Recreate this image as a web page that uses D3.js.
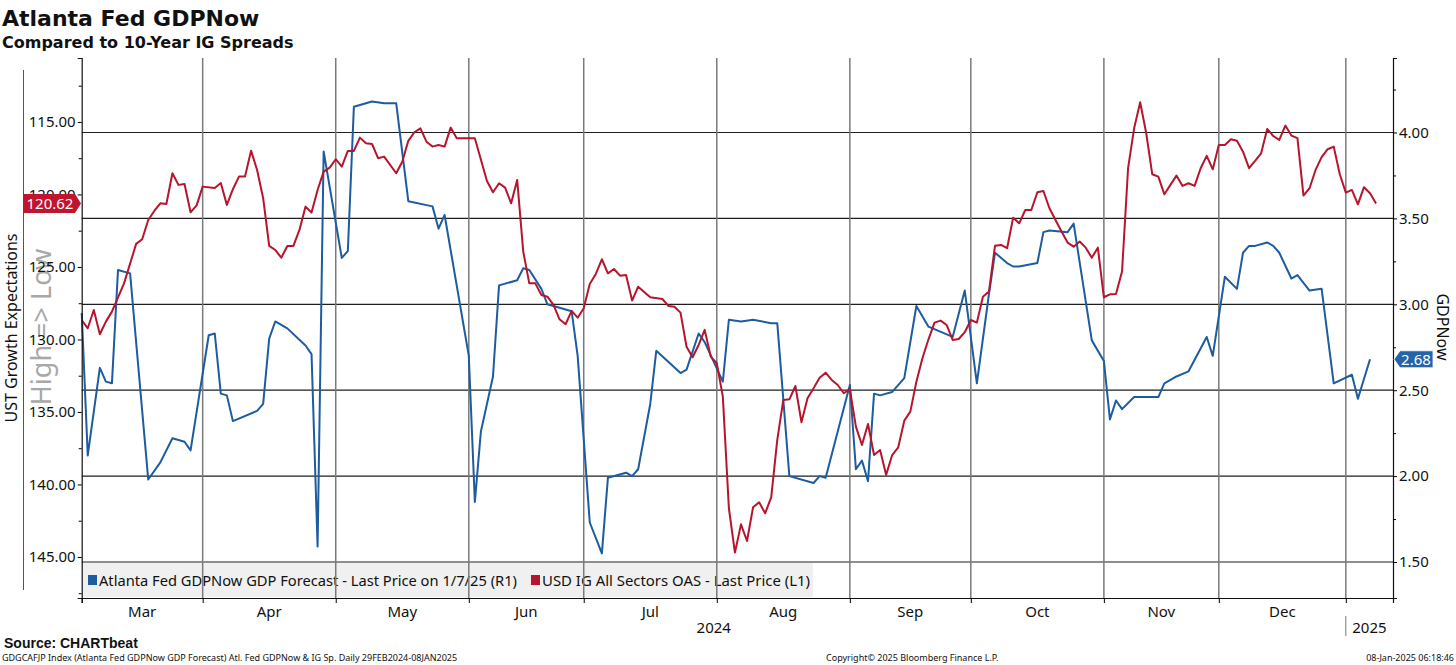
<!DOCTYPE html>
<meta charset="utf-8">
<script src="https://cdn.jsdelivr.net/npm/d3@7/dist/d3.min.js"></script>
<style>
body { margin: 0; background: #fff; }
svg text { font-family: "Noto Sans", "Open Sans", sans-serif; fill: #111; }
.title { font-family: "DejaVu Sans", sans-serif; font-weight: bold; }
.tick-lbl text { font-size: 15px; }
.legend text { font-size: 15px; font-family: "Liberation Sans Narrow", "Noto Sans", sans-serif; }
.foot { font-size: 9px; }
</style>
<div id="vis"></div>
<script>

// Trading calendar (bond market holidays are skipped on the x axis)
const startDay = "2024-02-29", endDay = "2025-01-10";
const holidays = ["2024-03-29", "2024-05-27", "2024-06-19", "2024-07-04", "2024-09-02",
  "2024-10-14", "2024-11-11", "2024-11-28", "2024-12-25", "2025-01-01"];

const monthLabels = ["Mar", "Apr", "May", "Jun", "Jul", "Aug", "Sep", "Oct", "Nov", "Dec"];
const yearLabels = ["2024", "2025"];
const leftTicks = [115, 120, 125, 130, 135, 140, 145];
const rightTicks = [1.5, 2.0, 2.5, 3.0, 3.5, 4.0];

// Atlanta Fed GDPNow (right axis) - update days only
const gdpDates = ["2024-02-29", "2024-03-01", "2024-03-05", "2024-03-06", "2024-03-07", "2024-03-08",
  "2024-03-12", "2024-03-15", "2024-03-19", "2024-03-21", "2024-03-25", "2024-03-26", "2024-04-01",
  "2024-04-02", "2024-04-03", "2024-04-04", "2024-04-05", "2024-04-11", "2024-04-12", "2024-04-15",
  "2024-04-16", "2024-04-18", "2024-04-23", "2024-04-24", "2024-04-25", "2024-04-26", "2024-05-01",
  "2024-05-02", "2024-05-03", "2024-05-08", "2024-05-10", "2024-05-14", "2024-05-16", "2024-05-22",
  "2024-05-23", "2024-05-24", "2024-05-31", "2024-06-03", "2024-06-04", "2024-06-06", "2024-06-07",
  "2024-06-12", "2024-06-13", "2024-06-14", "2024-06-18", "2024-06-20", "2024-06-26", "2024-06-27",
  "2024-07-01", "2024-07-03", "2024-07-05", "2024-07-10", "2024-07-11", "2024-07-12", "2024-07-16",
  "2024-07-17", "2024-07-23", "2024-07-24", "2024-07-26", "2024-07-29", "2024-08-01", "2024-08-02",
  "2024-08-06", "2024-08-08", "2024-08-13", "2024-08-14", "2024-08-16", "2024-08-22", "2024-08-23",
  "2024-08-26", "2024-08-30", "2024-09-03", "2024-09-04", "2024-09-05", "2024-09-06", "2024-09-09",
  "2024-09-11", "2024-09-13", "2024-09-17", "2024-09-19", "2024-09-25", "2024-09-27", "2024-10-01",
  "2024-10-03", "2024-10-04", "2024-10-08", "2024-10-09", "2024-10-10", "2024-10-16", "2024-10-17",
  "2024-10-18", "2024-10-23", "2024-10-24", "2024-10-29", "2024-10-31", "2024-11-01", "2024-11-04",
  "2024-11-05", "2024-11-07", "2024-11-14", "2024-11-15", "2024-11-19", "2024-11-21", "2024-11-26",
  "2024-11-27", "2024-12-02", "2024-12-04", "2024-12-05", "2024-12-06", "2024-12-09", "2024-12-11",
  "2024-12-12", "2024-12-13", "2024-12-17", "2024-12-18", "2024-12-20", "2024-12-24", "2024-12-27",
  "2025-01-02", "2025-01-03", "2025-01-07"];
const gdpValues = [2.95, 2.12, 2.63, 2.55, 2.54, 3.20,
  3.18, 1.98, 2.08, 2.22, 2.20, 2.15, 2.82,
  2.83, 2.48, 2.47, 2.32, 2.38, 2.42, 2.80,
  2.90, 2.86, 2.76, 2.71, 1.59, 3.89, 3.27,
  3.31, 4.15, 4.18, 4.17, 4.17, 3.60, 3.57,
  3.44, 3.52, 2.70, 1.85, 2.26, 2.58, 3.11,
  3.14, 3.21, 3.20, 3.09, 3.00, 2.96, 2.70,
  1.73, 1.55, 1.99, 2.02, 2.00, 2.04, 2.42,
  2.73, 2.60, 2.62, 2.83, 2.78, 2.55, 2.91,
  2.90, 2.91, 2.89, 2.89, 2.00, 1.96, 2.00,
  1.99, 2.53, 2.04, 2.09, 1.97, 2.48, 2.47,
  2.49, 2.57, 2.99, 2.87, 2.81, 3.08, 2.54,
  3.06, 3.30, 3.24, 3.22, 3.22, 3.24, 3.42,
  3.43, 3.42, 3.47, 2.79, 2.67, 2.33, 2.44,
  2.39, 2.46, 2.46, 2.54, 2.58, 2.61, 2.81,
  2.70, 3.16, 3.09, 3.30, 3.34, 3.34, 3.36,
  3.34, 3.30, 3.15, 3.17, 3.08, 3.09, 2.54,
  2.59, 2.45, 2.68];

// USD IG All Sectors OAS (left axis, inverted)
const oasDates = ["2024-02-29", "2024-03-01", "2024-03-04", "2024-03-05", "2024-03-06", "2024-03-07",
  "2024-03-11", "2024-03-13", "2024-03-14", "2024-03-15", "2024-03-18", "2024-03-19", "2024-03-20",
  "2024-03-21", "2024-03-22", "2024-03-25", "2024-03-26", "2024-03-27", "2024-03-28", "2024-04-02",
  "2024-04-03", "2024-04-04", "2024-04-05", "2024-04-08", "2024-04-09", "2024-04-10", "2024-04-11",
  "2024-04-12", "2024-04-15", "2024-04-16", "2024-04-17", "2024-04-18", "2024-04-19", "2024-04-22",
  "2024-04-23", "2024-04-24", "2024-04-25", "2024-04-26", "2024-04-29", "2024-04-30", "2024-05-01",
  "2024-05-02", "2024-05-03", "2024-05-06", "2024-05-07", "2024-05-08", "2024-05-09", "2024-05-10",
  "2024-05-14", "2024-05-15", "2024-05-16", "2024-05-17", "2024-05-20", "2024-05-21", "2024-05-22",
  "2024-05-23", "2024-05-24", "2024-05-28", "2024-05-29", "2024-06-03", "2024-06-05", "2024-06-06",
  "2024-06-07", "2024-06-10", "2024-06-11", "2024-06-12", "2024-06-13", "2024-06-14", "2024-06-17",
  "2024-06-18", "2024-06-20", "2024-06-21", "2024-06-24", "2024-06-25", "2024-06-26", "2024-06-27",
  "2024-06-28", "2024-07-01", "2024-07-02", "2024-07-03", "2024-07-05", "2024-07-08", "2024-07-09",
  "2024-07-10", "2024-07-11", "2024-07-12", "2024-07-16", "2024-07-18", "2024-07-19", "2024-07-22",
  "2024-07-23", "2024-07-24", "2024-07-25", "2024-07-26", "2024-07-29", "2024-07-30", "2024-07-31",
  "2024-08-01", "2024-08-02", "2024-08-05", "2024-08-06", "2024-08-07", "2024-08-08", "2024-08-09",
  "2024-08-12", "2024-08-13", "2024-08-14", "2024-08-15", "2024-08-16", "2024-08-19", "2024-08-20",
  "2024-08-21", "2024-08-22", "2024-08-23", "2024-08-26", "2024-08-27", "2024-08-28", "2024-08-29",
  "2024-08-30", "2024-09-03", "2024-09-04", "2024-09-05", "2024-09-06", "2024-09-09", "2024-09-10",
  "2024-09-11", "2024-09-12", "2024-09-13", "2024-09-16", "2024-09-17", "2024-09-18", "2024-09-19",
  "2024-09-20", "2024-09-23", "2024-09-24", "2024-09-25", "2024-09-26", "2024-09-27", "2024-09-30",
  "2024-10-01", "2024-10-02", "2024-10-03", "2024-10-04", "2024-10-07", "2024-10-08", "2024-10-09",
  "2024-10-10", "2024-10-11", "2024-10-15", "2024-10-16", "2024-10-17", "2024-10-18", "2024-10-21",
  "2024-10-22", "2024-10-23", "2024-10-24", "2024-10-25", "2024-10-28", "2024-10-29", "2024-10-30",
  "2024-10-31", "2024-11-01", "2024-11-04", "2024-11-05", "2024-11-06", "2024-11-07", "2024-11-08",
  "2024-11-12", "2024-11-13", "2024-11-14", "2024-11-15", "2024-11-18", "2024-11-19", "2024-11-20",
  "2024-11-21", "2024-11-22", "2024-11-25", "2024-11-26", "2024-11-27", "2024-11-29", "2024-12-02",
  "2024-12-03", "2024-12-04", "2024-12-05", "2024-12-06", "2024-12-09", "2024-12-10", "2024-12-11",
  "2024-12-12", "2024-12-13", "2024-12-16", "2024-12-17", "2024-12-18", "2024-12-19", "2024-12-20",
  "2024-12-23", "2024-12-24", "2024-12-26", "2024-12-27", "2024-12-30", "2024-12-31", "2025-01-02",
  "2025-01-03", "2025-01-06", "2025-01-07", "2025-01-08"];
const oasValues = [128.66, 129.23, 127.97, 129.64, 128.77, 128.08,
  126.13, 123.41, 123.09, 121.76, 121.14, 120.61, 120.66,
  118.54, 119.34, 119.28, 121.23, 120.75, 119.46, 119.55,
  119.21, 120.72, 119.64, 118.77, 118.77, 116.98, 118.31,
  120.26, 123.55, 123.83, 124.36, 123.55, 123.55, 122.45,
  120.84, 121.25, 119.69, 118.43, 118.15, 117.57, 118.08,
  117.00, 117.00, 116.08, 116.47, 116.52, 117.50, 117.39,
  118.54, 117.74, 116.30, 115.71, 115.44, 116.36, 116.70,
  116.59, 116.70, 115.39, 116.12, 116.12, 119.07, 119.85,
  119.23, 119.53, 120.61, 119.00, 123.94, 126.13, 126.13,
  126.93, 127.05, 127.62, 128.61, 128.95, 128.03, 128.50,
  127.85, 126.17, 125.48, 124.47, 125.44, 125.14, 125.60,
  125.55, 127.32, 126.36, 127.09, 127.21, 127.69, 127.74,
  128.15, 130.50, 131.23, 130.38, 129.34, 131.18, 131.64,
  133.94, 141.64, 144.70, 142.75, 143.90, 141.57, 141.23,
  141.99, 140.88, 136.93, 134.17, 134.13, 133.21, 135.71,
  134.06, 133.37, 132.64, 132.29, 132.79, 133.14, 133.71,
  133.43, 136.01, 137.28, 135.83, 137.97, 137.62, 139.34,
  137.97, 137.44, 135.60, 134.98, 132.91, 131.30, 129.99,
  128.84, 128.70, 129.00, 130.03, 129.97, 129.50, 128.66,
  128.84, 127.05, 126.70, 123.53, 123.48, 123.71, 121.60,
  121.99, 121.07, 121.07, 119.85, 119.76, 120.95, 121.76,
  122.56, 123.32, 123.60, 123.25, 123.67, 124.36, 123.67,
  127.09, 126.89, 126.86, 125.32, 118.19, 115.44, 113.64,
  115.78, 118.61, 118.77, 119.99, 119.34, 118.70, 119.41,
  119.23, 119.41, 118.19, 117.34, 118.26, 116.59, 116.59,
  116.19, 116.29, 117.05, 118.19, 117.69, 117.16, 115.48,
  115.97, 116.24, 115.25, 115.94, 116.12, 120.08, 119.57,
  118.31, 117.43, 116.88, 116.70, 118.61, 119.87, 119.69,
  120.68, 119.50, 119.92, 120.62];

const legendLabels = ["Atlanta Fed GDPNow GDP Forecast - Last Price on 1/7/25 (R1)",
  "USD IG All Sectors OAS - Last Price (L1)"];

const blue = "#1d5c9e", red = "#b7142e";

// Size and plot box
const w = 1456, h = 665;
const plot = {left: 81.7, right: 1393, top: 58, bottom: 598};

const svg = d3.select("#vis").append("svg")
  .attr("width", w).attr("height", h);

// Trading day index
const fmt = d3.utcFormat("%Y-%m-%d");
const days = d3.utcDay.range(new Date(startDay), new Date(endDay))
  .filter(d => d.getUTCDay() % 6 !== 0 && !holidays.includes(fmt(d)));
const dayIndex = new Map(days.map((d, i) => [fmt(d), i]));

// Scales
const x = d3.scaleLinear().domain([0, 216.8]).range([plot.left, plot.right]);
const yL = d3.scaleLinear().domain([110.59, 147.83]).range([plot.top, plot.bottom]);
const yR = d3.scaleLinear().domain([1.2905, 4.4336]).range([plot.bottom, plot.top]);

// Month boundaries sit on the last trading day of the previous month
const bounds = [];
days.forEach((d, i) => {
  if (i > 0 && d.getUTCMonth() !== days[i - 1].getUTCMonth()) bounds.push(i - 1);
});
// bounds[0] = Mar start ... bounds[10] = Jan 2025 start

// Legend background (under grid)
const legend = svg.append("g").attr("class", "legend");
legend.append("rect")
  .attr("x", 82).attr("y", 563).attr("width", 731).attr("height", 34)
  .attr("fill", "#f0f0f0");

// Grid
svg.append("g").selectAll("line")
  .data(rightTicks)
  .enter().append("line")
    .attr("x1", plot.left).attr("x2", plot.right)
    .attr("y1", d => yR(d)).attr("y2", d => yR(d))
    .attr("stroke", "#1e1e1e").attr("stroke-width", 1.2);

svg.append("g").selectAll("line")
  .data(bounds.slice(1, 11))
  .enter().append("line")
    .attr("x1", d => x(d)).attr("x2", d => x(d))
    .attr("y1", plot.top).attr("y2", plot.bottom)
    .attr("stroke", "#7a7a7a").attr("stroke-width", 1.5);

// Legend entries
legendLabels.forEach((t, i) => {
  const lx = i === 0 ? 88 : 531;
  legend.append("rect").attr("x", lx).attr("y", 575).attr("width", 9).attr("height", 10)
    .attr("fill", i === 0 ? blue : red);
  legend.append("text").attr("x", lx + 11).attr("y", 586)
    .attr("textLength", i === 0 ? 418 : 268).attr("lengthAdjust", "spacingAndGlyphs")
    .text(t);
});

// Lines
const gdpData = gdpDates.map((d, i) => ({i: dayIndex.get(d), v: gdpValues[i]}));
const oasData = oasDates.map((d, i) => ({i: dayIndex.get(d), v: oasValues[i]}));

svg.append("path").datum(gdpData)
  .attr("fill", "none").attr("stroke", blue).attr("stroke-width", 2)
  .attr("stroke-linejoin", "round")
  .attr("d", d3.line().x(d => x(d.i)).y(d => yR(d.v)));

svg.append("path").datum(oasData)
  .attr("fill", "none").attr("stroke", red).attr("stroke-width", 2)
  .attr("stroke-linejoin", "round")
  .attr("d", d3.line().x(d => x(d.i)).y(d => yL(d.v)));

// Titles
svg.append("text").attr("class", "title").attr("x", 2).attr("y", 26)
  .style("font-size", "22px").text("Atlanta Fed GDPNow");
svg.append("text").attr("class", "title").attr("x", 2).attr("y", 48)
  .style("font-size", "16px").text("Compared to 10-Year IG Spreads");

// Left axis side titles
svg.append("text")
  .attr("transform", "translate(51,327) rotate(-90)")
  .attr("text-anchor", "middle").style("font-size", "27px").style("fill", "#a8a8a8")
  .text("High => Low");
svg.append("line").attr("x1", 23.5).attr("x2", 23.5).attr("y1", 70).attr("y2", 590)
  .attr("stroke", "#555");
svg.append("text")
  .attr("transform", "translate(17,328) rotate(-90)")
  .attr("text-anchor", "middle").style("font-size", "16px")
  .text("UST Growth Expectations");

// Left axis
const gl = svg.append("g").attr("class", "tick-lbl")
  .attr("transform", "translate(" + plot.left + ",0)")
  .call(d3.axisLeft(yL).tickValues(leftTicks).tickFormat(d3.format(".2f")).tickSize(4).tickPadding(2));
gl.select(".domain").attr("stroke", "#111").attr("stroke-width", 1.2);
gl.selectAll("text").attr("fill", "#111");
svg.append("g").attr("transform", "translate(" + plot.left + ",0)")
  .call(d3.axisLeft(yL).tickValues(d3.range(112.5, 148, 5)).tickFormat("").tickSize(3))
  .select(".domain").remove();

// Right axis
const gr = svg.append("g").attr("class", "tick-lbl")
  .attr("transform", "translate(" + plot.right + ",0)")
  .call(d3.axisRight(yR).tickValues(rightTicks).tickFormat(d3.format(".2f")).tickSize(4).tickPadding(2));
gr.select(".domain").attr("stroke", "#111").attr("stroke-width", 1.2);
gr.selectAll("text").attr("fill", "#111");
svg.append("g").attr("transform", "translate(" + plot.right + ",0)")
  .call(d3.axisRight(yR).tickValues(d3.range(1.75, 4.3, 0.5)).tickFormat("").tickSize(3))
  .select(".domain").remove();

svg.append("text")
  .attr("transform", "translate(1437,327) rotate(90)")
  .attr("text-anchor", "middle").style("font-size", "16px")
  .text("GDPNow");

// Bottom axis
const gb = svg.append("g")
  .attr("transform", "translate(0," + plot.bottom + ")")
  .call(d3.axisBottom(x).tickValues(bounds.slice(0, 11)).tickFormat("").tickSize(5));
gb.select(".domain").attr("stroke", "#111").attr("stroke-width", 1.2);

svg.append("g").selectAll("text")
  .data(monthLabels)
  .enter().append("text")
    .attr("x", (d, i) => (x(bounds[i]) + x(bounds[i + 1])) / 2)
    .attr("y", 617)
    .attr("text-anchor", "middle").style("font-size", "15px")
    .text(d => d);

const yearPos = [(x(bounds[0]) + x(bounds[10])) / 2, (x(bounds[10]) + plot.right) / 2];
svg.append("g").selectAll("text")
  .data(yearLabels)
  .enter().append("text")
    .attr("x", (d, i) => yearPos[i])
    .attr("y", 633)
    .attr("text-anchor", "middle").style("font-size", "15px")
    .text(d => d);
svg.append("line").attr("x1", x(bounds[10])).attr("x2", x(bounds[10]))
  .attr("y1", 616).attr("y2", 636).attr("stroke", "#777");

// Last value tags
const lastOas = oasValues[oasValues.length - 1];
const lastGdp = gdpValues[gdpValues.length - 1];
const ty = yL(lastOas);
svg.append("path")
  .attr("d", `M23,${ty - 9.5} H75 L81,${ty} L75,${ty + 9.5} H23 Z`)
  .attr("fill", "#c0142f");
svg.append("text").attr("x", 50).attr("y", ty + 5.5)
  .attr("text-anchor", "middle").style("font-size", "15px").style("fill", "#fff")
  .text(d3.format(".2f")(lastOas));

const by = yR(lastGdp);
svg.append("path")
  .attr("d", `M1394,${by} L1400,${by - 8.5} H1433 V${by + 8.5} H1400 Z`)
  .attr("fill", "#2464a8").attr("stroke", "#fff").attr("stroke-width", 0.8);
svg.append("text").attr("x", 1416).attr("y", by + 5.5)
  .attr("text-anchor", "middle").style("font-size", "15px").style("fill", "#fff")
  .text(d3.format(".2f")(lastGdp));

// Footer
svg.append("text").attr("x", 4).attr("y", 648)
  .style("font-family", "Liberation Sans, sans-serif").style("font-weight", "bold").style("font-size", "14px")
  .text("Source: CHARTbeat");
svg.append("text").attr("class", "foot").attr("x", 2).attr("y", 661)
  .text("GDGCAFJP Index (Atlanta Fed GDPNow GDP Forecast) Atl. Fed GDPNow & IG Sp.  Daily 29FEB2024-08JAN2025");
svg.append("text").attr("class", "foot").attr("x", 826).attr("y", 661)
  .text("Copyright\u00a9 2025 Bloomberg Finance L.P.");
svg.append("text").attr("class", "foot").attr("x", 1454).attr("y", 661)
  .attr("text-anchor", "end")
  .text("08-Jan-2025 06:18:46");

</script>
